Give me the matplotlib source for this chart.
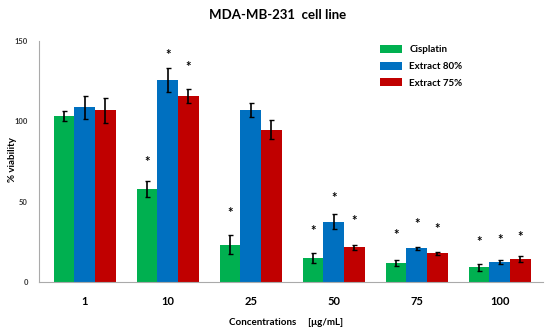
import matplotlib.pyplot as plt
import numpy as np

plt.rcParams['font.family'] = ['Lato', 'DejaVu Sans']

concs = ["1", "10", "25", "50", "75", "100"]
series = ["Cisplatin", "Extract 80%", "Extract 75%"]
colors = ["#00B050", "#0070C0", "#C00000"]

cisplatin = [103.3, 57.9, 23.2, 15.1, 12.0, 9.1]
extract80 = [108.7, 125.7, 107.2, 37.5, 21.0, 12.6]
extract75 = [106.8, 115.6, 94.8, 21.6, 18.0, 14.1]

cis_err = [3.4, 5.0, 6.0, 3.2, 2.0, 2.0]
e80_err = [7.0, 7.6, 4.5, 4.7, 1.0, 1.2]
e75_err = [8.0, 4.5, 6.0, 1.7, 1.0, 1.8]

# heights of the significance stars (None = no star)
cis_star = [None, 75, 42.7, 31.7, 29, 24.7]
e80_star = [None, 141, None, 52, 36, 26]
e75_star = [None, 133.6, None, 38, 33, 27.8]

values = [cisplatin, extract80, extract75]
errs = [cis_err, e80_err, e75_err]
stars = [cis_star, e80_star, e75_star]

fig = plt.figure(figsize=(5.5, 3.33), dpi=100)
ax = fig.add_axes([0.071, 0.153, 0.916, 0.724])

x = np.arange(len(concs))
w = 0.25
for i in range(3):
    pos = x + (i - 1) * w
    ax.bar(pos, values[i], w, color=colors[i], label=series[i],
           yerr=errs[i], error_kw=dict(ecolor='black', elinewidth=1.2, capsize=1.8, capthick=1))
    for p, s in zip(pos, stars[i]):
        if s is not None:
            ax.text(p, s, "*", ha='center', va='center', fontsize=9.5, fontweight='bold')

ax.set_ylim(0, 150)
ax.set_xlim(-0.55, 5.52)
ax.set_yticks([0, 50, 100, 150])
ax.set_yticklabels(["0", "50", "100", "150"], fontsize=5.5, fontweight='bold', color='#333333')
ax.set_xticks(x)
ax.set_xticklabels(concs, fontsize=8, fontweight='bold')
ax.tick_params(axis='both', length=0)
ax.tick_params(axis='x', pad=10)
ax.tick_params(axis='y', pad=8)
for sp in ['top', 'right']:
    ax.spines[sp].set_visible(False)
ax.spines['left'].set_color('#aaaaaa')
ax.spines['bottom'].set_color('#aaaaaa')

fig.text(0.022, 0.52, "% viability", rotation=90, ha='center', va='center', fontsize=7, fontweight='bold')
fig.text(0.52, 0.025, "Concentrations     [\u03bcg/mL]", ha='center', fontsize=7, fontweight='bold')
fig.text(0.505, 0.955, "MDA-MB-231  cell line", ha='center', va='center', fontsize=9.5, fontweight='bold')

ax.legend(loc='upper left', bbox_to_anchor=(0.66, 1.02), frameon=False,
          prop={'weight': 'bold', 'size': 7}, handlelength=2.2, handleheight=0.9, labelspacing=0.75)

fig.savefig("out.png", dpi=100)
